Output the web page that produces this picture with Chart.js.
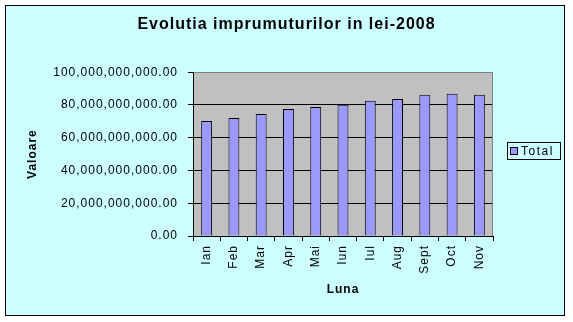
<!DOCTYPE html>
<html>
<head>
<meta charset="utf-8">
<script src="https://cdn.jsdelivr.net/npm/chart.js@4/dist/chart.umd.min.js"></script>
<style>
  html, body { margin: 0; padding: 0; background: #ffffff; }
  canvas { display: block; }
</style>
</head>
<body>
<canvas id="c" width="573" height="322"></canvas>
<script>
const chartTitle = 'Evolutia imprumuturilor in lei-2008';
const xAxisTitle = 'Luna';
const yAxisTitle = 'Valoare';
const seriesName = 'Total';
const categories = ['Ian', 'Feb', 'Mar', 'Apr', 'Mai', 'Iun', 'Iul', 'Aug', 'Sept', 'Oct', 'Nov'];
const totalValues = [70.2e9, 72.1e9, 74.5e9, 77.6e9, 78.8e9, 80.2e9, 82.5e9, 83.7e9, 86.2e9, 86.8e9, 86.2e9];
const yTickValues = [0, 20e9, 40e9, 60e9, 80e9, 100e9];

const SPACING = '1px';
const spacingPlugin = {
  id: 'spacing',
  beforeUpdate(chart) { chart.ctx.letterSpacing = SPACING; },
  beforeLayout(chart) { chart.ctx.letterSpacing = SPACING; },
  beforeDraw(chart) { chart.ctx.letterSpacing = SPACING; }
};

const backgroundPlugin = {
  id: 'bg',
  beforeDraw(chart) {
    const ctx = chart.ctx;
    const a = chart.chartArea;
    ctx.save();
    ctx.fillStyle = '#ffffff';
    ctx.fillRect(0, 0, chart.width, chart.height);
    ctx.fillStyle = '#CCFFFF';
    ctx.fillRect(6, 5, 559, 311);
    ctx.strokeStyle = '#000000';
    ctx.lineWidth = 1;
    ctx.strokeRect(5.5, 5.5, 559, 310);
    ctx.fillStyle = '#C0C0C0';
    ctx.fillRect(a.left, a.top, a.right - a.left, a.bottom - a.top);
    ctx.restore();
  },
  afterDraw(chart) {
    const ctx = chart.ctx;
    const a = chart.chartArea;
    ctx.save();
    ctx.strokeStyle = '#808080';
    ctx.lineWidth = 1;
    ctx.beginPath();
    ctx.moveTo(Math.round(a.right) - 0.5, a.top);
    ctx.lineTo(Math.round(a.right) - 0.5, a.bottom);
    ctx.stroke();
    // legend
    const ds = chart.data.datasets[0];
    const bx = 507.5, by = 142.5, bw = 53, bh = 17;
    ctx.strokeStyle = '#000000';
    ctx.strokeRect(bx, by, bw, bh);
    ctx.fillStyle = ds.backgroundColor;
    ctx.fillRect(510, 147, 7, 7);
    ctx.strokeRect(510.5, 147.5, 7, 7);
    ctx.letterSpacing = '1.5px';
    ctx.fillStyle = '#000000';
    ctx.font = '12px Arial, "Liberation Sans", sans-serif';
    ctx.textBaseline = 'middle';
    ctx.textAlign = 'left';
    ctx.fillText(ds.label, 521, 151.5);
    ctx.restore();
  }
};

new Chart(document.getElementById('c'), {
  type: 'bar',
  data: {
    labels: categories,
    datasets: [{
      label: seriesName,
      data: totalValues,
      backgroundColor: '#9999FF',
      borderColor: '#000000',
      borderWidth: 1,
      barPercentage: 0.4,
      categoryPercentage: 1.0,
      yAxisID: 'y'
    }]
  },
  options: {
    responsive: false,
    animation: false,
    devicePixelRatio: 1,
    layout: { padding: 0 },
    plugins: {
      legend: { display: false },
      tooltip: { enabled: false },
      title: {
        display: true,
        text: chartTitle,
        color: '#000000',
        font: { family: 'Arial, "Liberation Sans", sans-serif', size: 16, weight: 'bold', lineHeight: 1.2 },
        padding: { top: 15, bottom: 38 }
      }
    },
    scales: {
      x: {
        afterFit(scale) { scale.height = 86; },
        grid: { display: true, drawOnChartArea: false, drawTicks: true, tickLength: 5, color: '#000000', offset: true },
        border: { display: true, color: '#000000' },
        ticks: {
          color: '#000000',
          font: { family: 'Arial, "Liberation Sans", sans-serif', size: 12 },
          minRotation: 90, maxRotation: 90, padding: 4, autoSkip: false
        },
        title: {
          display: true, text: xAxisTitle, color: '#000000',
          font: { family: 'Arial, "Liberation Sans", sans-serif', size: 12, weight: 'bold', lineHeight: 1.2 },
          padding: { top: 0, bottom: 25 }
        }
      },
      y: {
        position: 'left',
        min: 0, max: 100e9,
        afterFit(scale) { scale.width = 193; },
        afterBuildTicks(scale) { scale.ticks = yTickValues.map(v => ({ value: v })); },
        grid: {
          color: (c) => (c.tick && c.tick.value === 100e9) ? '#808080' : '#000000',
          tickColor: '#000000',
          tickLength: 5, drawTicks: true
        },
        border: { display: true, color: '#000000' },
        ticks: {
          color: '#000000',
          font: { family: 'Arial, "Liberation Sans", sans-serif', size: 12 },
          padding: 10,
          callback: (v) => Number(v).toLocaleString('en-US', { minimumFractionDigits: 2, maximumFractionDigits: 2 })
        },
        title: {
          display: true, text: yAxisTitle, color: '#000000',
          font: { family: 'Arial, "Liberation Sans", sans-serif', size: 12, weight: 'bold', lineHeight: 1.2 },
          padding: { top: 25, bottom: 0 }
        }
      },
      gap: {
        type: 'linear',
        position: 'right',
        display: true,
        afterFit(scale) { scale.width = 80; },
        grid: { display: false, drawOnChartArea: false, drawTicks: false },
        border: { display: false },
        ticks: { display: false },
        title: { display: false }
      }
    }
  },
  plugins: [spacingPlugin, backgroundPlugin]
});
</script>
</body>
</html>
